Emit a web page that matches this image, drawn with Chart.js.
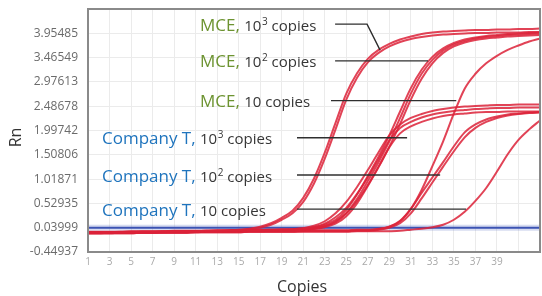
<!DOCTYPE html>
<html><head><meta charset="utf-8">
<script src="https://cdn.jsdelivr.net/npm/chart.js@4.4.1/dist/chart.umd.min.js"></script>
<style>html,body{margin:0;padding:0;background:#fff;}canvas{display:block;}</style>
</head><body>
<canvas id="c" width="542" height="296"></canvas>
<script>
// ---- data ----
const cycles = [1,2,3,4,5,6,7,8,9,10,11,12,13,14,15,16,17,18,19,20,21,22,23,24,25,26,27,28,29,30,31,32,33,34,35,36,37,38,39,40,41,42,43];

const mce1000a = [-0.06,-0.06,-0.05,-0.05,-0.05,-0.04,-0.04,-0.04,-0.03,-0.03,-0.03,-0.02,-0.02,-0.01,0.00,0.02,0.06,0.13,0.24,0.38,0.64,1.03,1.55,2.15,2.74,3.15,3.44,3.62,3.74,3.83,3.89,3.94,3.97,3.99,4.00,4.01,4.02,4.02,4.03,4.03,4.04,4.04,4.05];
const mce1000b = [-0.07,-0.07,-0.06,-0.06,-0.06,-0.05,-0.05,-0.05,-0.04,-0.04,-0.04,-0.03,-0.03,-0.02,-0.01,0.01,0.04,0.10,0.20,0.33,0.56,0.93,1.43,2.02,2.62,3.06,3.37,3.56,3.69,3.78,3.84,3.88,3.91,3.93,3.94,3.95,3.96,3.96,3.97,3.97,3.97,3.98,3.98];

const mce100a = [-0.04,-0.04,-0.04,-0.04,-0.03,-0.03,-0.03,-0.03,-0.02,-0.02,-0.02,-0.02,-0.01,-0.01,-0.01,-0.01,0.00,0.00,0.01,0.01,0.03,0.05,0.10,0.20,0.40,0.71,1.08,1.47,1.90,2.38,2.85,3.22,3.48,3.65,3.76,3.83,3.87,3.90,3.92,3.94,3.95,3.96,3.97];
const mce100b = [-0.05,-0.05,-0.05,-0.04,-0.04,-0.04,-0.04,-0.03,-0.03,-0.03,-0.03,-0.02,-0.02,-0.02,-0.02,-0.01,-0.01,-0.01,0.00,0.00,0.01,0.03,0.07,0.15,0.33,0.62,0.98,1.36,1.78,2.25,2.74,3.14,3.42,3.61,3.73,3.80,3.85,3.88,3.90,3.92,3.93,3.94,3.95];
const mce100c = [-0.06,-0.06,-0.06,-0.05,-0.05,-0.05,-0.05,-0.04,-0.04,-0.04,-0.04,-0.03,-0.03,-0.03,-0.03,-0.02,-0.02,-0.02,-0.01,-0.01,0.00,0.02,0.05,0.12,0.27,0.53,0.88,1.26,1.67,2.13,2.62,3.04,3.35,3.56,3.69,3.77,3.82,3.85,3.87,3.89,3.90,3.91,3.92];

const mce10 = [-0.05,-0.05,-0.05,-0.05,-0.05,-0.04,-0.04,-0.04,-0.04,-0.04,-0.03,-0.03,-0.03,-0.03,-0.03,-0.02,-0.02,-0.02,-0.02,-0.02,-0.01,-0.01,-0.01,-0.01,-0.01,0.00,0.00,0.02,0.06,0.17,0.42,0.80,1.28,1.78,2.34,2.84,3.14,3.35,3.50,3.62,3.71,3.79,3.85];

const ct1000a = [-0.05,-0.05,-0.05,-0.05,-0.04,-0.04,-0.04,-0.04,-0.03,-0.03,-0.03,-0.03,-0.02,-0.02,-0.02,-0.01,-0.01,0.00,0.00,0.01,0.03,0.08,0.17,0.33,0.56,0.86,1.20,1.56,1.90,2.12,2.25,2.33,2.39,2.43,2.46,2.48,2.49,2.50,2.51,2.51,2.52,2.52,2.52];
const ct1000b = [-0.06,-0.06,-0.06,-0.05,-0.05,-0.05,-0.05,-0.04,-0.04,-0.04,-0.04,-0.03,-0.03,-0.03,-0.02,-0.02,-0.02,-0.01,-0.01,0.00,0.01,0.05,0.12,0.25,0.44,0.72,1.05,1.42,1.80,2.05,2.17,2.26,2.32,2.36,2.39,2.41,2.43,2.44,2.45,2.45,2.46,2.46,2.46];
const ct1000c = [-0.07,-0.07,-0.07,-0.06,-0.06,-0.06,-0.06,-0.05,-0.05,-0.05,-0.05,-0.04,-0.04,-0.04,-0.03,-0.03,-0.03,-0.02,-0.02,-0.02,-0.01,0.02,0.07,0.17,0.33,0.58,0.90,1.27,1.66,1.94,2.08,2.17,2.24,2.29,2.32,2.34,2.36,2.37,2.37,2.38,2.38,2.38,2.38];

const ct100a = [-0.06,-0.06,-0.06,-0.06,-0.06,-0.05,-0.05,-0.05,-0.05,-0.05,-0.04,-0.04,-0.04,-0.04,-0.04,-0.03,-0.03,-0.03,-0.03,-0.03,-0.02,-0.02,-0.02,-0.02,-0.02,-0.01,-0.01,0.01,0.06,0.18,0.42,0.74,1.05,1.36,1.68,1.96,2.12,2.22,2.28,2.32,2.34,2.36,2.37];
const ct100b = [-0.07,-0.07,-0.07,-0.07,-0.07,-0.06,-0.06,-0.06,-0.06,-0.06,-0.05,-0.05,-0.05,-0.05,-0.05,-0.04,-0.04,-0.04,-0.04,-0.04,-0.03,-0.03,-0.03,-0.03,-0.03,-0.02,-0.02,0.00,0.04,0.13,0.33,0.63,0.95,1.27,1.58,1.86,2.05,2.17,2.25,2.30,2.33,2.35,2.36];

const ct10 = [-0.07,-0.07,-0.07,-0.07,-0.07,-0.06,-0.06,-0.06,-0.06,-0.06,-0.05,-0.05,-0.05,-0.05,-0.05,-0.04,-0.04,-0.04,-0.04,-0.04,-0.04,-0.04,-0.04,-0.04,-0.04,-0.03,-0.03,-0.03,-0.03,-0.02,0.00,0.02,0.05,0.10,0.20,0.36,0.58,0.84,1.17,1.52,1.81,2.02,2.20];

const threshold = 0.03999;

const yTickValues = [-0.44937,0.03999,0.52935,1.01871,1.50806,1.99742,2.48678,2.97613,3.46549,3.95485];
const yMin = -0.44937, yMax = 4.44421;
const xTickValues = [1,3,5,7,9,11,13,15,17,19,21,23,25,27,29,31,33,35,37,39,41];
const xTickLabels = ['1','3','5','7','9','11','13','15','17','19','21','23','25','27','29','31','33','35','37','39',''];
const xMin = 1, xMax = 43;

// annotation labels (anchored in data units)
const labelRows = [
  {brand:'MCE,', kind:'mce', count:'10', sup:'3', textAt:11.41, lineY:4.14, leader:[{x:23.96,y:4.14},{x:26.93,y:4.14},{x:28.14,y:3.615}]},
  {brand:'MCE,', kind:'mce', count:'10', sup:'2', textAt:11.41, lineY:3.40, leader:[{x:23.96,y:3.40},{x:32.60,y:3.40}]},
  {brand:'MCE,', kind:'mce', count:'10', sup:'',  textAt:11.41, lineY:2.60, leader:[{x:23.58,y:2.60},{x:35.22,y:2.60}]},
  {brand:'Company T,', kind:'ct', count:'10', sup:'3', textAt:2.30, lineY:1.85, leader:[{x:20.42,y:1.85},{x:30.65,y:1.85}]},
  {brand:'Company T,', kind:'ct', count:'10', sup:'2', textAt:2.30, lineY:1.10, leader:[{x:20.42,y:1.10},{x:33.72,y:1.10}]},
  {brand:'Company T,', kind:'ct', count:'10', sup:'',  textAt:2.30, lineY:0.414, leader:[{x:20.42,y:0.414},{x:36.13,y:0.414}]}
];
const xTitle = 'Copies', yTitle = 'Rn';

// ---- styles ----
const RED = 'rgba(220,34,56,0.85)';
const brandColors = {mce:'#6c9330', ct:'#1f74bd'};
const FONT = '"Open Sans", "Noto Sans", sans-serif';

const curves = [mce1000a,mce1000b,mce100a,mce100b,mce100c,mce10,ct1000a,ct1000b,ct1000c,ct100a,ct100b,ct10];
const toXY = vals => vals.map((v,i)=>({x:cycles[i], y:v}));

const datasets = [];
labelRows.forEach(r => datasets.push({data:r.leader, borderColor:'#2f2f2f', borderWidth:1.4, order:0, tension:0}));
curves.forEach(c => datasets.push({data:toXY(c), borderColor:RED, borderWidth:2, order:1, cubicInterpolationMode:'monotone'}));
datasets.push({data:[{x:xMin,y:threshold},{x:xMax,y:threshold}], borderColor:'#3c53b3', borderWidth:2, order:2});
datasets.push({data:[{x:xMin,y:threshold},{x:xMax,y:threshold}], borderColor:'rgba(110,130,205,0.28)', borderWidth:6, order:3});

const overlay = {
  id:'overlay',
  afterDatasetsDraw(chart){
    const {ctx, chartArea:ca, scales:{x, y}} = chart;
    ctx.save();
    ctx.strokeStyle = '#8a8a8a'; ctx.lineWidth = 2;
    ctx.strokeRect(ca.left, ca.top, ca.right-ca.left, ca.bottom-ca.top);
    ctx.textAlign = 'left'; ctx.textBaseline = 'alphabetic';
    labelRows.forEach(r => {
      let px = x.getPixelForValue(r.textAt);
      const base = y.getPixelForValue(r.lineY) + 6.5;
      ctx.font = '17px ' + FONT; ctx.fillStyle = brandColors[r.kind];
      ctx.fillText(r.brand, px, base);
      px += ctx.measureText(r.brand + ' ').width;
      ctx.font = '15px ' + FONT; ctx.fillStyle = '#363636';
      ctx.fillText(r.count, px, base);
      px += ctx.measureText(r.count).width;
      if (r.sup) {
        ctx.font = '10px ' + FONT;
        ctx.fillText(r.sup, px + 0.5, base - 6);
        px += ctx.measureText(r.sup).width + 0.5;
      }
      ctx.font = '15px ' + FONT;
      ctx.fillText(' copies', px, base);
    });
    ctx.fillStyle = '#333';
    ctx.font = '16px ' + FONT; ctx.textAlign = 'center'; ctx.textBaseline = 'middle';
    ctx.fillText(xTitle, 302, 287);
    ctx.translate(16, 137.5); ctx.rotate(-Math.PI/2);
    ctx.fillText(yTitle, 0, 0);
    ctx.restore();
  }
};

new Chart(document.getElementById('c'), {
  type:'line',
  data:{datasets},
  options:{
    responsive:false, animation:false, devicePixelRatio:1,
    layout:{padding:{left:0, top:9, right:2, bottom:0}},
    plugins:{legend:{display:false}, tooltip:{enabled:false}},
    elements:{point:{radius:0}},
    scales:{
      x:{type:'linear', min:xMin, max:xMax,
        afterBuildTicks: s => { s.ticks = xTickValues.map(v => ({value:v})); },
        afterFit: s => { s.height = 44; s.paddingLeft = 0; s.paddingRight = 0; },
        ticks:{callback:(v,i)=>xTickLabels[i], font:{family:FONT, size:10}, color:'#a9a9a9', padding:4, maxRotation:0, autoSkip:false},
        grid:{color:'#ebebeb', lineWidth:1, drawTicks:false},
        border:{display:false}
      },
      y:{type:'linear', min:yMin, max:yMax,
        afterBuildTicks: s => { s.ticks = yTickValues.map(v => ({value:v})); },
        afterFit: s => { s.width = 88; s.paddingTop = 0; s.paddingBottom = 0; },
        ticks:{callback:v=>Number(v).toFixed(5), font:{family:FONT, size:12}, color:'#6b6b6b', padding:10, autoSkip:false},
        grid:{color:'#ebebeb', lineWidth:1, drawTicks:false},
        border:{display:false}
      }
    }
  },
  plugins:[overlay]
});
</script>
</body></html>
